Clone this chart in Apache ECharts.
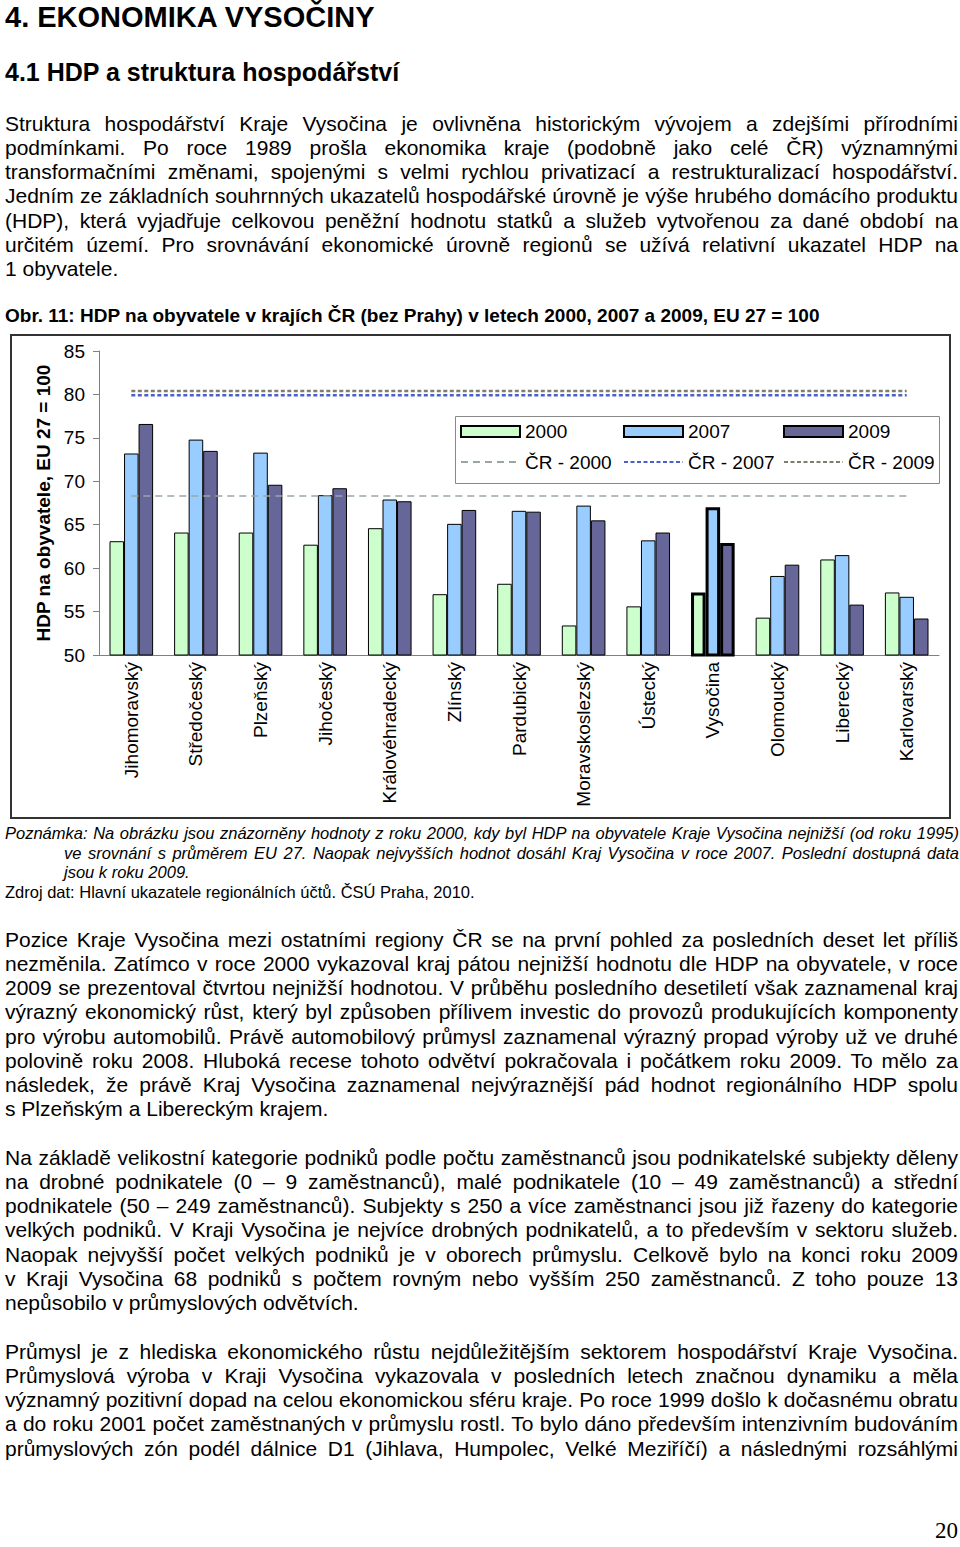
<!DOCTYPE html>
<html>
<head>
<meta charset="utf-8">
<script src="https://cdn.jsdelivr.net/npm/echarts@6/dist/echarts.min.js"></script>
<style>
html,body{margin:0;padding:0;background:#fff;}
body{position:relative;width:960px;height:1547px;overflow:hidden;font-family:'Liberation Sans',Arial,sans-serif;color:#000;}
.h1{position:absolute;left:5px;top:0;font-size:29px;line-height:34px;font-weight:bold;white-space:nowrap;}
.h2{position:absolute;left:5px;top:57px;font-size:25px;line-height:30px;font-weight:bold;white-space:nowrap;}
.para{position:absolute;left:5px;width:953px;font-size:21px;line-height:24.17px;}
.para div{height:24.17px;white-space:nowrap;}
.j{text-align:justify;text-align-last:justify;}
.cap{position:absolute;left:5px;top:305px;font-size:19px;line-height:22px;font-weight:bold;white-space:nowrap;}
.note{position:absolute;left:5px;top:824px;width:954px;font-size:16.5px;line-height:19.7px;}
.note div{height:19.7px;white-space:nowrap;}
.note .it{font-style:italic;}
.note .ind{padding-left:59px;}
#chart{position:absolute;left:10px;top:334px;width:941px;height:485px;border:2px solid #333;box-sizing:border-box;}
.pg{position:absolute;left:935px;top:1518px;font-family:'Liberation Serif','Times New Roman',serif;font-size:23px;line-height:26px;}
</style>
</head>
<body>
<div class="h1">4. EKONOMIKA VYSOČINY</div>
<div class="h2">4.1 HDP a struktura hospodářství</div>

<div class="para" style="top:112px">
<div class="j">Struktura hospodářství Kraje Vysočina je ovlivněna historickým vývojem a zdejšími přírodními</div>
<div class="j">podmínkami. Po roce 1989 prošla ekonomika kraje (podobně jako celé ČR) významnými</div>
<div class="j">transformačními změnami, spojenými s velmi rychlou privatizací a restrukturalizací hospodářství.</div>
<div class="j">Jedním ze základních souhrnných ukazatelů hospodářské úrovně je výše hrubého domácího produktu</div>
<div class="j">(HDP), která vyjadřuje celkovou peněžní hodnotu statků a služeb vytvořenou za dané období na</div>
<div class="j">určitém území. Pro srovnávání ekonomické úrovně regionů se užívá relativní ukazatel HDP na</div>
<div>1 obyvatele.</div>
</div>

<div class="cap">Obr. 11: HDP na obyvatele v krajích ČR (bez Prahy) v letech 2000, 2007 a 2009, EU 27 = 100</div>

<div id="chart"></div>

<div class="note">
<div class="it j">Poznámka: Na obrázku jsou znázorněny hodnoty z roku 2000, kdy byl HDP na obyvatele Kraje Vysočina nejnižší (od roku 1995)</div>
<div class="it j ind">ve srovnání s průměrem EU 27. Naopak nejvyšších hodnot dosáhl Kraj Vysočina v roce 2007. Poslední dostupná data</div>
<div class="it ind">jsou k roku 2009.</div>
<div>Zdroj dat: Hlavní ukazatele regionálních účtů. ČSÚ Praha, 2010.</div>
</div>

<div class="para" style="top:928px">
<div class="j">Pozice Kraje Vysočina mezi ostatními regiony ČR se na první pohled za posledních deset let příliš</div>
<div class="j">nezměnila. Zatímco v roce 2000 vykazoval kraj pátou nejnižší hodnotu dle HDP na obyvatele, v roce</div>
<div class="j">2009 se prezentoval čtvrtou nejnižší hodnotou. V průběhu posledního desetiletí však zaznamenal kraj</div>
<div class="j">výrazný ekonomický růst, který byl způsoben přílivem investic do provozů produkujících komponenty</div>
<div class="j">pro výrobu automobilů. Právě automobilový průmysl zaznamenal výrazný propad výroby už ve druhé</div>
<div class="j">polovině roku 2008. Hluboká recese tohoto odvětví pokračovala i počátkem roku 2009. To mělo za</div>
<div class="j">následek, že právě Kraj Vysočina zaznamenal nejvýraznější pád hodnot regionálního HDP spolu</div>
<div>s Plzeňským a Libereckým krajem.</div>
</div>

<div class="para" style="top:1146px">
<div class="j">Na základě velikostní kategorie podniků podle počtu zaměstnanců jsou podnikatelské subjekty děleny</div>
<div class="j">na drobné podnikatele (0 – 9 zaměstnanců), malé podnikatele (10 – 49 zaměstnanců) a střední</div>
<div class="j">podnikatele (50 – 249 zaměstnanců). Subjekty s 250 a více zaměstnanci jsou již řazeny do kategorie</div>
<div class="j">velkých podniků. V Kraji Vysočina je nejvíce drobných podnikatelů, a to především v sektoru služeb.</div>
<div class="j">Naopak nejvyšší počet velkých podniků je v oborech průmyslu. Celkově bylo na konci roku 2009</div>
<div class="j">v Kraji Vysočina 68 podniků s počtem rovným nebo vyšším 250 zaměstnanců. Z toho pouze 13</div>
<div>nepůsobilo v průmyslových odvětvích.</div>
</div>

<div class="para" style="top:1340px">
<div class="j">Průmysl je z hlediska ekonomického růstu nejdůležitějším sektorem hospodářství Kraje Vysočina.</div>
<div class="j">Průmyslová výroba v Kraji Vysočina vykazovala v posledních letech značnou dynamiku a měla</div>
<div class="j">významný pozitivní dopad na celou ekonomickou sféru kraje. Po roce 1999 došlo k dočasnému obratu</div>
<div class="j">a do roku 2001 počet zaměstnaných v průmyslu rostl. To bylo dáno především intenzivním budováním</div>
<div class="j">průmyslových zón podél dálnice D1 (Jihlava, Humpolec, Velké Meziříčí) a následnými rozsáhlými</div>
</div>

<div class="pg">20</div>

<script>
// ---- data ----
const categories = ['Jihomoravský','Středočeský','Plzeňský','Jihočeský','Královéhradecký','Zlínský','Pardubický','Moravskoslezský','Ústecký','Vysočina','Olomoucký','Liberecký','Karlovarský'];
const values2000 = [63.1, 64.1, 64.1, 62.7, 64.6, 57.0, 58.2, 53.4, 55.6, 57.2, 54.3, 61.0, 57.2];
const values2007 = [73.2, 74.8, 73.3, 68.4, 67.9, 65.1, 66.6, 67.2, 63.2, 67.0, 59.1, 61.5, 56.7];
const values2009 = [76.6, 73.5, 69.6, 69.2, 67.7, 66.7, 66.5, 65.5, 64.1, 62.9, 60.4, 55.8, 54.2];
const cr2000 = [68.3, 68.3, 68.3, 68.3, 68.3, 68.3, 68.3, 68.3, 68.3, 68.3, 68.3, 68.3, 68.3];
const cr2007 = [79.9, 79.9, 79.9, 79.9, 79.9, 79.9, 79.9, 79.9, 79.9, 79.9, 79.9, 79.9, 79.9];
const cr2009 = [80.4, 80.4, 80.4, 80.4, 80.4, 80.4, 80.4, 80.4, 80.4, 80.4, 80.4, 80.4, 80.4];
const seriesNames = ['2000','2007','2009','ČR - 2000','ČR - 2007','ČR - 2009'];
const yAxisTitle = 'HDP na obyvatele, EU 27 = 100';
const highlighted = 'Vysočina';

const FONT = "'Liberation Sans', Arial, sans-serif";
const chart = echarts.init(document.getElementById('chart'), null, {renderer: 'svg'});

function barData(vals, color) {
  return vals.map((v, i) => categories[i] === highlighted
    ? {value: v, itemStyle: {color: color, borderWidth: 3, borderColor: '#000'}}
    : v);
}
function barSeries(name, vals, color) {
  return {
    name: name, type: 'bar', data: barData(vals, color),
    barGap: '0%', barCategoryGap: '32.5%',
    itemStyle: {color: color, borderColor: '#000', borderWidth: 1},
    emphasis: {disabled: true}, z: 2
  };
}
function lineSeries(name, vals, color, width, dash) {
  return {
    name: name, type: 'line', data: vals, symbol: 'none', showSymbol: false,
    color: color,
    itemStyle: {color: color},
    lineStyle: {color: color, width: width, type: dash},
    emphasis: {disabled: true}, z: 3
  };
}
const legendText = {fontSize: 19, color: '#000', fontFamily: FONT, lineHeight: 20};
function legendCol(names, left) {
  return {
    orient: 'vertical', left: left, top: 85.5, itemWidth: 59, itemHeight: 11, itemGap: 10.5,
    selectedMode: false, padding: 0, textStyle: legendText,
    data: [
      {name: names[0], icon: 'rect'},
      {name: names[1], itemStyle: {opacity: 0}}
    ]
  };
}

chart.setOption({
  animation: false,
  textStyle: {fontFamily: FONT},
  grid: {left: 87, right: 10, top: 15, bottom: 162, containLabel: false},
  legend: [
    legendCol([seriesNames[0], seriesNames[3]], 448),
    legendCol([seriesNames[1], seriesNames[4]], 611),
    legendCol([seriesNames[2], seriesNames[5]], 771)
  ],
  graphic: [{
    type: 'rect', left: 441, top: 78, shape: {width: 484, height: 67},
    style: {fill: 'none', stroke: '#888', lineWidth: 1}, silent: true, z: 0
  }],
  xAxis: [{
    type: 'category', data: categories, position: 'bottom',
    axisLine: {lineStyle: {color: '#808080', width: 1}},
    axisTick: {length: 6, interval: 0, lineStyle: {color: '#808080'}},
    axisLabel: {rotate: 90, interval: 0, fontSize: 19, color: '#000', margin: 7, fontFamily: FONT}
  }, {
    type: 'category', data: categories, position: 'bottom', gridIndex: 0,
    axisLine: {show: false},
    axisTick: {inside: true, length: 6, interval: 0, lineStyle: {color: '#808080'}},
    axisLabel: {show: false}
  }],
  yAxis: {
    type: 'value', min: 50, max: 85, interval: 5,
    axisLine: {show: true, lineStyle: {color: '#808080', width: 1}},
    axisTick: {show: true, length: 6, lineStyle: {color: '#808080'}},
    splitLine: {show: false},
    axisLabel: {fontSize: 19, color: '#000', margin: 14, fontFamily: FONT},
    name: yAxisTitle, nameLocation: 'middle', nameRotate: 90, nameGap: 46,
    nameTextStyle: {fontSize: 19, fontWeight: 'bold', color: '#000', fontFamily: FONT}
  },
  series: [
    barSeries(seriesNames[0], values2000, '#CCFFCC'),
    barSeries(seriesNames[1], values2007, '#99CCFF'),
    barSeries(seriesNames[2], values2009, '#666699'),
    lineSeries(seriesNames[3], cr2000, '#9AA6A6', 1.5, [7, 5]),
    lineSeries(seriesNames[4], cr2007, '#4A62C8', 2.5, [4, 2.5]),
    lineSeries(seriesNames[5], cr2009, '#7E7E70', 2.5, [4, 2.5])
  ]
});
</script>
</body>
</html>
